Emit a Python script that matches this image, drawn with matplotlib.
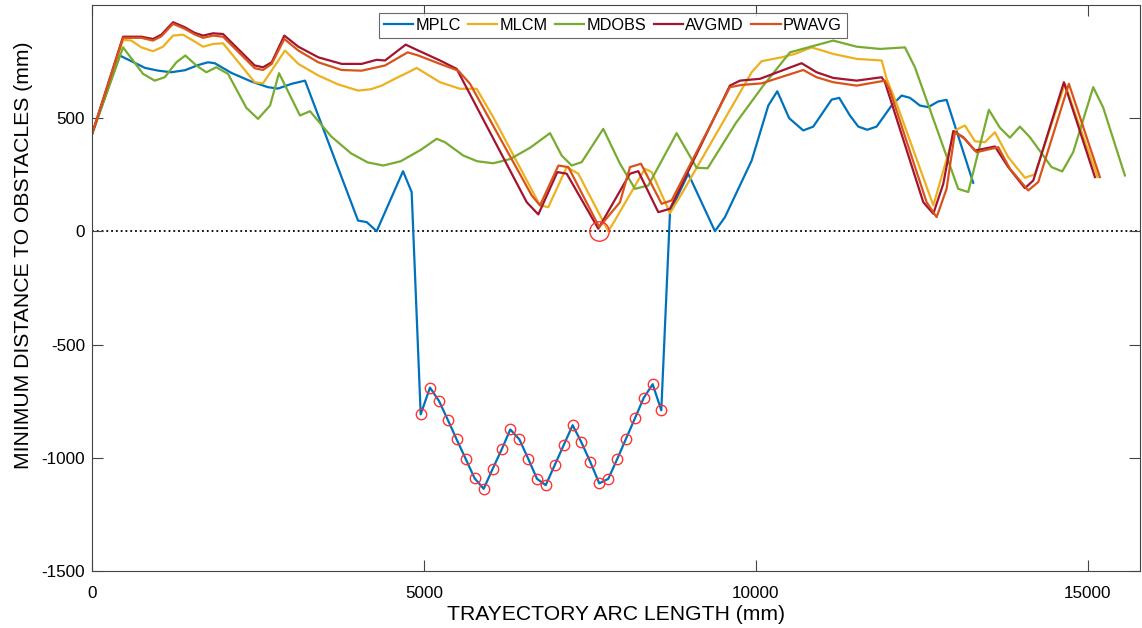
import numpy as np
import matplotlib
matplotlib.use("Agg")
from matplotlib import pyplot as plt

plt.rcParams["font.family"] = ["Liberation Sans", "DejaVu Sans"]
plt.rcParams["axes.unicode_minus"] = False

# MPLC
mplc_x = [0, 417, 800, 1000, 1190, 1400, 1600, 1747, 1848, 2100, 2400, 2650, 2800, 3007, 3208,
          4006, 4137, 4287, 4684, 4814,
          4950, 5090, 5226, 5361, 5492, 5628, 5763, 5899, 6034, 6170, 6300, 6435, 6571, 6702,
          6833, 6968, 7104, 7239, 7368, 7504, 7640, 7775, 7911, 8042, 8178, 8308, 8444, 8574,
          8705, 8980, 9382, 9533, 9935, 10186, 10321, 10500, 10712, 10863, 11139, 11254, 11415,
          11541, 11676, 11817, 12043, 12194, 12319, 12470, 12595, 12745, 12871, 13272]
mplc_y = [430, 777, 722, 710, 703, 712, 735, 747, 743, 700, 662, 637, 631, 652, 666,
          48, 41, 1, 266, 174,
          -808, -690, -749, -834, -919, -1005, -1091, -1137, -1049, -963, -875, -918, -1005, -1093,
          -1121, -1033, -944, -856, -930, -1018, -1113, -1093, -1005, -916, -825, -736, -675, -790,
          85, 255, 1, 63, 313, 556, 619, 500, 446, 463, 582, 590, 512,
          463, 449, 463, 556, 600, 590, 556, 549, 574, 581, 215]

# MLCM
mlcm_x = [0, 467, 592, 742, 919, 1069, 1220, 1370, 1521, 1672, 1822, 1973, 2123, 2450, 2575,
          2906, 3107, 3400, 3700, 4010, 4200, 4362, 4600, 4764, 4889, 5241, 5542, 5793, 6044,
          6747, 6872, 7149, 7324, 7775, 7876, 8328, 8429, 8705, 8881, 9935, 10085, 10386, 10587,
          10838, 11164, 11516, 11893, 11968, 12119, 12671, 12997, 13147, 13298, 13448, 13599,
          13800, 14051, 14202, 14653, 15145]
mlcm_y = [430, 846, 843, 813, 796, 816, 865, 869, 843, 816, 828, 831, 777, 659, 654,
          799, 740, 690, 650, 622, 628, 644, 680, 703, 722, 659, 630, 630, 504,
          115, 107, 284, 255, 1, 49, 277, 262, 81, 166, 703, 752, 769, 784,
          813, 784, 762, 755, 674, 564, 115, 446, 468, 398, 394, 438,
          328, 237, 252, 652, 240]

# MDOBS
mdobs_x = [0, 467, 768, 944, 1095, 1270, 1405, 1571, 1721, 1872, 2048, 2324, 2500, 2681, 2816,
           3132, 3283, 3600, 3900, 4150, 4387, 4650, 4950, 5191, 5316, 5592, 5800, 6044, 6300,
           6600, 6898, 7074, 7224, 7375, 7700, 7952, 8178, 8378, 8805, 9106, 9272, 9700, 10100,
           10512, 11164, 11516, 11867, 12244, 12394, 13046, 13197, 13508, 13674, 13825, 13975,
           14126, 14453, 14613, 14778, 15080, 15231, 15557]
mdobs_y = [430, 813, 696, 666, 681, 747, 777, 733, 703, 725, 696, 546, 497, 556, 699,
           512, 531, 420, 345, 305, 291, 310, 360, 409, 394, 335, 310, 301, 320,
           370, 434, 335, 291, 306, 453, 299, 188, 203, 434, 281, 279, 480, 640,
           791, 843, 816, 806, 813, 725, 188, 174, 537, 458, 414, 463,
           416, 284, 265, 350, 637, 546, 247]

# AVGMD
avgmd_x = [0, 467, 742, 919, 1044, 1220, 1396, 1546, 1672, 1822, 1973, 2450, 2575, 2706, 2896,
           3107, 3408, 3760, 4061, 4287, 4413, 4724, 4914, 5241, 5492, 6547, 6722, 7008, 7149,
           7625, 8102, 8227, 8529, 8705, 9608, 9759, 10060, 10687, 10913, 11164, 11516, 11893,
           11943, 12520, 12671, 12821, 12972, 13122, 13298, 13599, 13800, 14051, 14177, 14638,
           15105]
avgmd_y = [430, 860, 860, 850, 869, 924, 902, 877, 865, 875, 872, 733, 725, 747, 865,
           816, 769, 740, 740, 758, 755, 825, 799, 755, 718, 129, 75, 262, 255,
           12, 255, 266, 85, 100, 644, 666, 674, 743, 703, 678, 666, 681,
           659, 129, 78, 210, 443, 416, 357, 375, 284, 191, 225, 659,
           240]

# PWAVG
pwavg_x = [0, 467, 742, 919, 1044, 1220, 1396, 1546, 1672, 1822, 1973, 2450, 2575, 2706, 2896,
           3107, 3408, 3760, 4061, 4413, 4754, 4914, 5241, 5517, 5693, 6622, 6747, 7024, 7174,
           7640, 7952, 8102, 8268, 8579, 8730, 9608, 9784, 10085, 10712, 10913, 11164, 11516,
           11943, 12018, 12570, 12721, 12871, 12997, 13147, 13323, 13649, 13825, 14101, 14252,
           14713, 15180]
pwavg_y = [430, 855, 855, 843, 862, 917, 895, 870, 855, 865, 860, 721, 713, 740, 850,
           799, 747, 713, 710, 733, 791, 777, 740, 710, 652, 159, 115, 291, 284,
           19, 129, 284, 299, 122, 137, 637, 647, 654, 713, 681, 659, 644,
           666, 622, 129, 63, 188, 438, 409, 350, 372, 277, 181, 218,
           652, 240]

# highlighted minimum
mark_x = [7640]
mark_y = [0]

fig = plt.figure(figsize=(11.42, 6.28), dpi=100)
ax = fig.add_axes([0.0806, 0.0908, 0.9174, 0.9012])

ax.axhline(0, color="black", linestyle=":", linewidth=1.3, zorder=1)
ax.plot(mplc_x, mplc_y, color="#0072BD", lw=1.6, label="MPLC")
ax.plot(mlcm_x, mlcm_y, color="#EDB120", lw=1.6, label="MLCM")
ax.plot(mdobs_x, mdobs_y, color="#77AC30", lw=1.6, label="MDOBS")
ax.plot(avgmd_x, avgmd_y, color="#A2142F", lw=1.6, label="AVGMD")
ax.plot(pwavg_x, pwavg_y, color="#D95319", lw=1.6, label="PWAVG")

mx = np.array(mplc_x)
my = np.array(mplc_y)
neg = my < 0
ax.plot(mx[neg], my[neg], "o", mfc="none", mec="#FF3333", ms=7.5, mew=1.0)
ax.plot(mark_x, mark_y, "o", mfc="none", mec="#FF3333", ms=14, mew=1.0)

ax.set_xlim(0, 15780)
ax.set_ylim(-1500, 1000)
ax.set_xticks([0, 5000, 10000, 15000])
ax.set_yticks([-1500, -1000, -500, 0, 500])
ax.tick_params(direction="in", top=True, right=True, length=8, labelsize=12.3,
               color="#444444", width=0.8)
ax.tick_params(axis="x", pad=11)
ax.tick_params(axis="y", pad=5)
for s in ax.spines.values():
    s.set_color("#444444")
    s.set_linewidth(0.8)

ax.set_xlabel("TRAYECTORY ARC LENGTH (mm)", fontsize=15.2, labelpad=2.5)
ax.set_ylabel("MINIMUM DISTANCE TO OBSTACLES (mm)", fontsize=15.2)
ax.yaxis.set_label_coords(-0.056, 0.557)

leg = ax.legend(loc="upper center", bbox_to_anchor=(0.497, 1.0), ncol=5, fontsize=11.7,
                frameon=True, fancybox=False, edgecolor="#444444", handlelength=1.8,
                columnspacing=0.45, handletextpad=0.15, borderpad=0.3, borderaxespad=0.5)
leg.get_frame().set_linewidth(0.8)

fig.savefig("out.png", dpi=100)
